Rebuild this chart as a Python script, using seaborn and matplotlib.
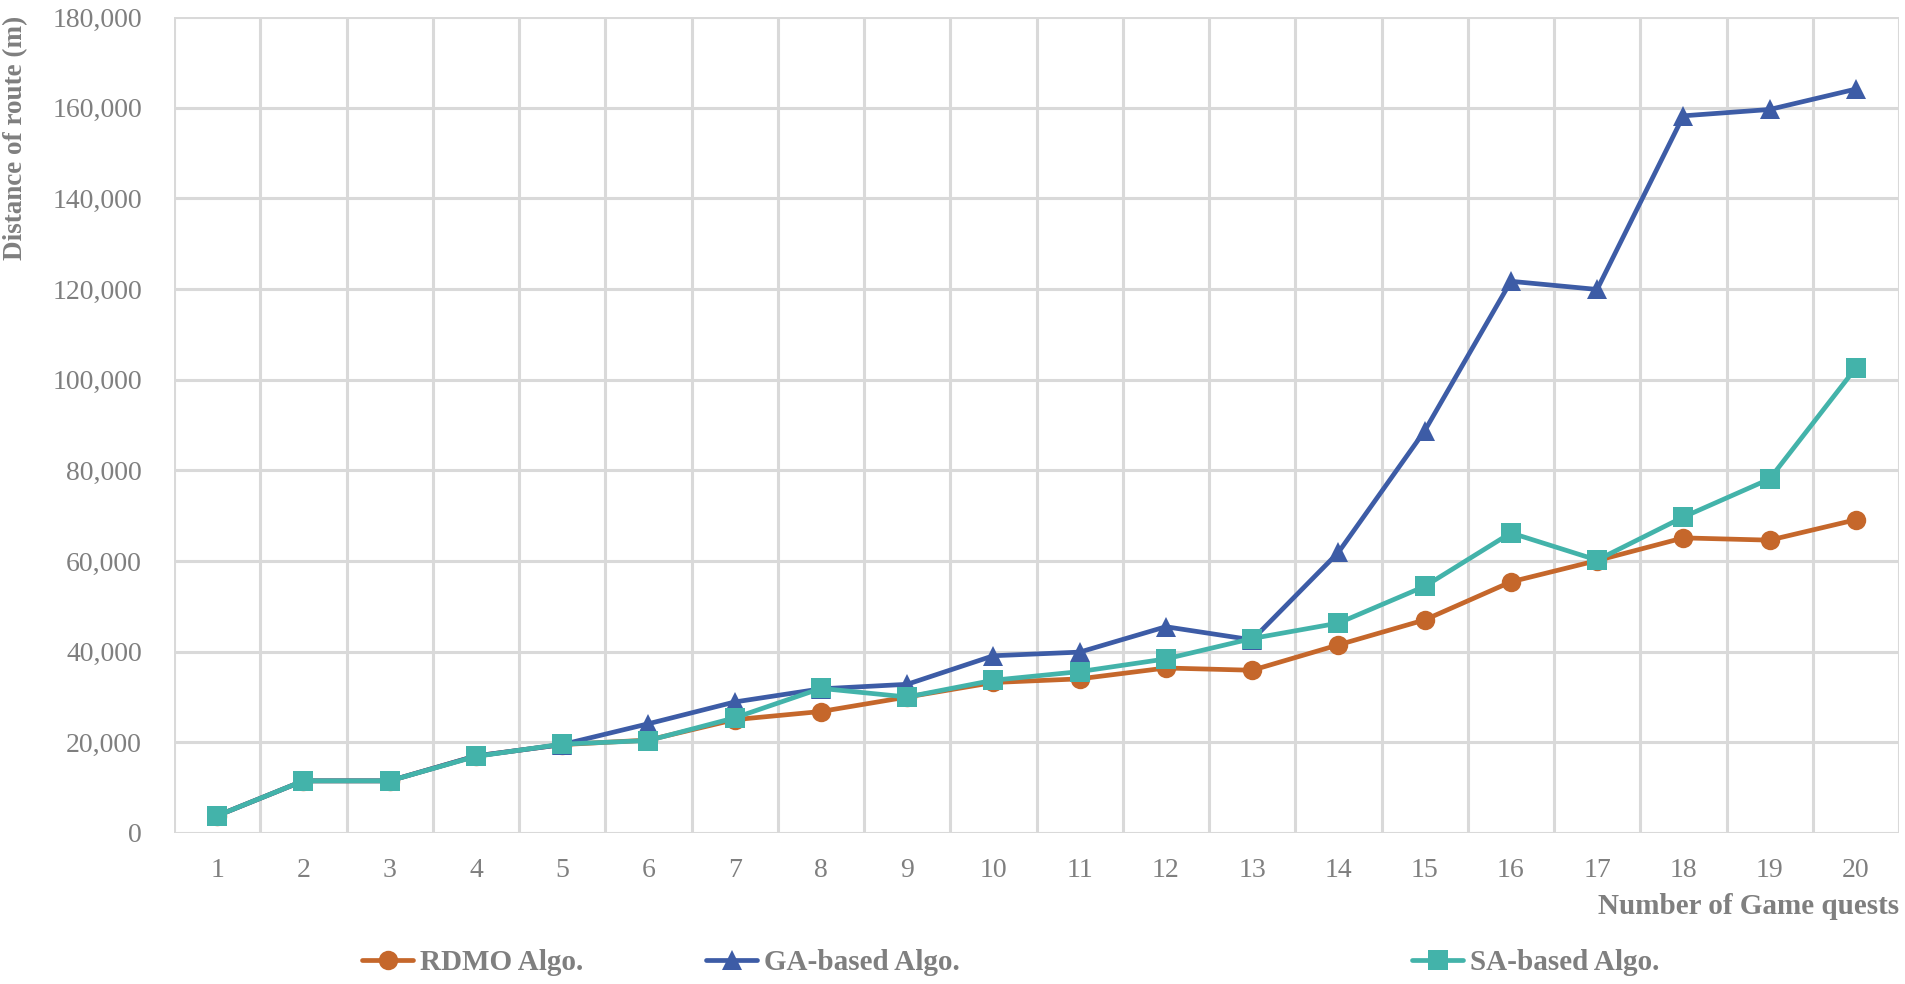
import matplotlib
matplotlib.use("Agg")
import matplotlib.pyplot as plt
import matplotlib.ticker as mticker
import seaborn as sns
import pandas as pd
import numpy as np

quests = list(range(1, 21))
rdmo = [3800, 11500, 11500, 17000, 19500, 20500, 25000, 26800, 30000, 33200,
        34000, 36400, 35900, 41500, 47000, 55400, 60100, 65100, 64600, 69100]
ga = [3800, 11500, 11500, 17000, 19500, 24100, 28900, 31800, 32800, 39100,
      39900, 45500, 42600, 61900, 88700, 121700, 119900, 158200, 159600, 164100]
sa = [3800, 11500, 11500, 16900, 19600, 20400, 25400, 31900, 30000, 33700,
      35600, 38400, 42900, 46300, 54400, 66200, 60200, 69700, 78100, 102600]
series_names = ["RDMO Algo.", "GA-based Algo.", "SA-based Algo."]
colors = ["#C5672B", "#3D5CA6", "#43B3AA"]
markers = ["o", "^", "s"]
msizes = [14, 15, 15]

df = pd.DataFrame({
    "quest": quests * 3,
    "dist": rdmo + ga + sa,
    "algo": [series_names[0]] * 20 + [series_names[1]] * 20 + [series_names[2]] * 20,
})

sns.set_theme(style="white")
plt.rcParams['font.family'] = ['Liberation Serif', 'DejaVu Serif']

fig = plt.figure(figsize=(19.05, 9.84), dpi=100)
ax = fig.add_axes([174/1905, 1-833/984, (1899-174)/1905, (833-17)/984])

for name, c, m, ms in zip(series_names, colors, markers, msizes):
    sub = df[df["algo"] == name]
    sns.lineplot(data=sub, x="quest", y="dist", ax=ax, color=c, marker=m,
                 markersize=ms, markeredgewidth=0, linewidth=3.4, label=name,
                 legend=False, zorder=3)

ax.set_xlim(0.5, 20.5)
ax.set_ylim(0, 180000)
ax.set_xticks(quests)
ax.set_yticks(np.arange(0, 180001, 20000))
ax.yaxis.set_major_formatter(mticker.FuncFormatter(lambda v, p: f"{v:,.0f}"))
ax.xaxis.set_minor_locator(mticker.FixedLocator(np.arange(0.5, 21, 1)))
ax.grid(False)
ax.grid(which="major", axis="y", color="#D9D9D9", linewidth=2.2, zorder=0)
ax.grid(which="minor", axis="x", color="#D9D9D9", linewidth=2.2, zorder=0)
for s in ax.spines.values():
    s.set_visible(False)
ax.tick_params(axis="both", which="both", length=0)
ax.tick_params(axis="x", pad=18, labelsize=20, labelcolor="#7F7F7F")
ax.tick_params(axis="y", pad=23, labelsize=20, labelcolor="#7F7F7F")

ax.set_ylabel("")
ax.set_xlabel("Number of Game quests", loc="right", fontsize=21,
              fontweight="bold", color="#7F7F7F")
ax.xaxis.set_label_coords(1.0, -(893-833)/816)

fig.text(16/1905, 1-16/984, "Distance of route (m)", rotation=90,
         ha="center", va="top", fontsize=19.5, fontweight="bold", color="#7F7F7F")

handles, labels = ax.get_legend_handles_labels()
leg_x = [362/1905, 706/1905, 1412/1905]
for h, l, x in zip(handles, labels, leg_x):
    lg = fig.legend([h], [l], loc="center left", bbox_to_anchor=(x, 1-963/984),
                    frameon=False, handlelength=1.75, handletextpad=0.25,
                    borderpad=0, borderaxespad=0,
                    prop={"size": 21, "weight": "bold"}, labelcolor="#7F7F7F")

fig.savefig("out.png", dpi=100)
